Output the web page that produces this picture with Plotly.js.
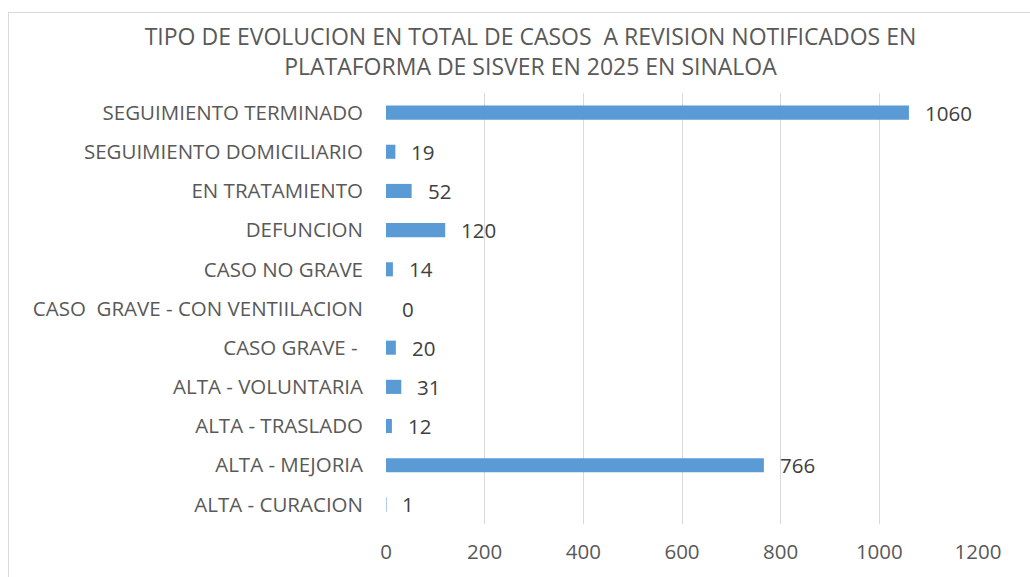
<!DOCTYPE html>
<html>
<head>
<meta charset="utf-8">
<script src="https://cdn.plot.ly/plotly-3.0.1.min.js"></script>
<style>
html,body{margin:0;padding:0;background:#fff;}
#frame{position:absolute;left:8px;top:12px;width:1040px;height:600px;border:1px solid #d9d9d9;box-sizing:border-box;}
#chart{position:absolute;left:0;top:0;width:1030px;height:577px;}
</style>
</head>
<body>
<div id="frame"></div>
<div id="chart"></div>
<script>
const categories = [
  "ALTA - CURACION",
  "ALTA - MEJORIA",
  "ALTA - TRASLADO",
  "ALTA - VOLUNTARIA",
  "CASO GRAVE - ",
  "CASO  GRAVE - CON VENTIILACION",
  "CASO NO GRAVE",
  "DEFUNCION",
  "EN TRATAMIENTO",
  "SEGUIMIENTO DOMICILIARIO",
  "SEGUIMIENTO TERMINADO"
];
const values = [1, 766, 12, 31, 20, 0, 14, 120, 52, 19, 1060];
const xTicks = [0, 200, 400, 600, 800, 1000, 1200];
const titleText = "TIPO DE EVOLUCION EN TOTAL DE CASOS  A REVISION NOTIFICADOS EN<br>PLATAFORMA DE SISVER EN 2025 EN SINALOA";

const FONT = "'Open Sans', sans-serif";
const labelCats = categories.map(c => c.replace(/  /g, "\u00a0 "));

const trace = {
  type: "bar",
  orientation: "h",
  y: labelCats,
  x: values,
  marker: {color: "#5B9BD5"},
  hoverinfo: "x+y"
};

const annotations = values.map((v, i) => ({
  x: v, y: labelCats[i], xref: "x", yref: "y",
  text: String(v), showarrow: false, xanchor: "left", yanchor: "middle",
  xshift: 14, yshift: 0,
  font: {family: FONT, size: 20.5, color: "#404040"}
}));

const layout = {
  width: 1030, height: 577,
  margin: {l: 386, r: 52, t: 93, b: 53},
  paper_bgcolor: "rgba(0,0,0,0)",
  plot_bgcolor: "rgba(0,0,0,0)",
  bargap: 0.64,
  showlegend: false,
  title: {
    text: titleText,
    x: 0.515, xanchor: "center",
    y: 0.922, yanchor: "middle",
    font: {family: FONT, size: 23, color: "#595959"}
  },
  xaxis: {
    range: [0, 1200],
    tickvals: xTicks,
    ticktext: xTicks.map(String),
    showgrid: true, gridcolor: "#d9d9d9", gridwidth: 1,
    zeroline: false, showline: false,
    ticks: "", ticklabelstandoff: 13,
    tickfont: {family: FONT, size: 20.5, color: "#595959"},
    fixedrange: true
  },
  yaxis: {
    type: "category",
    categoryorder: "array", categoryarray: labelCats,
    showgrid: false, zeroline: false, showline: false,
    ticks: "", ticklabelstandoff: 22,
    tickfont: {family: FONT, size: 20.5, color: "#595959"},
    fixedrange: true
  },
  annotations: annotations
};

Plotly.newPlot("chart", [trace], layout, {displayModeBar: false, staticPlot: true});
</script>
</body>
</html>
